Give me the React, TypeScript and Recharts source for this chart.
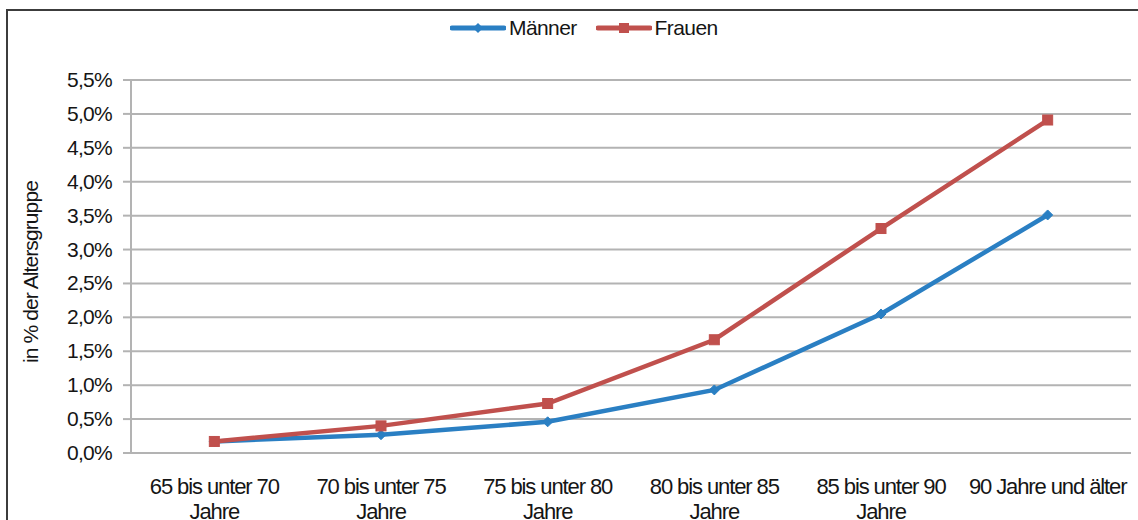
import React from "react";
import {
  LineChart,
  Line,
  XAxis,
  YAxis,
  CartesianGrid,
  Legend,
  Label,
} from "recharts";

const categories = [
  "65 bis unter 70 Jahre",
  "70 bis unter 75 Jahre",
  "75 bis unter 80 Jahre",
  "80 bis unter 85 Jahre",
  "85 bis unter 90 Jahre",
  "90 Jahre und älter",
];
const categoryLines: string[][] = [
  ["65 bis unter 70", "Jahre"],
  ["70 bis unter 75", "Jahre"],
  ["75 bis unter 80", "Jahre"],
  ["80 bis unter 85", "Jahre"],
  ["85 bis unter 90", "Jahre"],
  ["90 Jahre und älter"],
];
const maenner = [0.17, 0.27, 0.46, 0.93, 2.05, 3.51];
const frauen = [0.17, 0.4, 0.73, 1.67, 3.31, 4.91];
const yTicks = [0, 0.5, 1, 1.5, 2, 2.5, 3, 3.5, 4, 4.5, 5, 5.5];
const boundaryTicks = [0, 1, 2, 3, 4, 5, 6];

const data = categories.map((c, i) => ({
  group: c,
  Männer: maenner[i],
  Frauen: frauen[i],
}));

const BLUE = "#2a7fc3";
const RED = "#c0504d";
const GRID = "#b3b3b3";
const TEXT = "#151515";
const FONT = "'Liberation Sans', Arial, sans-serif";

const fmt = (v: number) => v.toFixed(1).replace(".", ",") + "%";

const Diamond = (props: any) => {
  const { cx, cy, index } = props;
  if (cx == null || cy == null) return <g key={"d" + index} />;
  const r = 5;
  return (
    <path
      key={"d" + index}
      d={`M${cx},${cy - r} L${cx + r},${cy} L${cx},${cy + r} L${cx - r},${cy} Z`}
      fill={BLUE}
      stroke={BLUE}
    />
  );
};

const Square = (props: any) => {
  const { cx, cy, index } = props;
  if (cx == null || cy == null) return <g key={"s" + index} />;
  const r = 5;
  return (
    <rect
      key={"s" + index}
      x={cx - r}
      y={cy - r}
      width={2 * r}
      height={2 * r}
      fill={RED}
      stroke={RED}
    />
  );
};

const CatTick = (props: any) => {
  const { x, y, payload } = props;
  const idx = categories.indexOf(payload.value);
  const lines = idx >= 0 ? categoryLines[idx] : [String(payload.value)];
  return (
    <g transform={`translate(${x},${y})`}>
      {lines.map((l, i) => (
        <text
          key={i}
          x={0}
          y={33 + i * 25}
          textAnchor="middle"
          fontFamily={FONT}
          fontSize={22}
          letterSpacing={-1.1}
          fill={TEXT}
        >
          {l}
        </text>
      ))}
    </g>
  );
};

const YTick = (props: any) => {
  const { x, y, payload } = props;
  return (
    <text
      x={x}
      y={y}
      dy={7}
      textAnchor="end"
      fontFamily={FONT}
      fontSize={21}
      letterSpacing={-0.7}
      fill={TEXT}
    >
      {fmt(payload.value)}
    </text>
  );
};

const LegendContent = () => {
  const items = [
    { name: "Männer", color: BLUE, shape: "diamond" },
    { name: "Frauen", color: RED, shape: "square" },
  ];
  return (
    <div
      style={{
        height: 70,
        display: "flex",
        justifyContent: "flex-start",
        alignItems: "flex-start",
        paddingTop: 6,
        paddingLeft: 450,
        boxSizing: "border-box",
        fontFamily: FONT,
        fontSize: 21,
        letterSpacing: -0.6,
        color: TEXT,
      }}
    >
      {items.map((it, i) => (
        <div
          key={it.name}
          style={{
            display: "flex",
            alignItems: "center",
            marginLeft: i === 0 ? 0 : 19,
          }}
        >
          <svg width={56} height={14} style={{ marginRight: 3 }}>
            <line x1={2} y1={7} x2={54} y2={7} stroke={it.color} strokeWidth={5} strokeLinecap="round" />
            {it.shape === "diamond" ? (
              <path d="M28,2 L33,7 L28,12 L23,7 Z" fill={it.color} />
            ) : (
              <rect x={23} y={2} width={10} height={10} fill={it.color} />
            )}
          </svg>
          <span style={{ lineHeight: "24px" }}>{it.name}</span>
        </div>
      ))}
    </div>
  );
};

export default function App() {
  return (
    <div
      style={{
        position: "absolute",
        left: 0,
        top: 0,
        width: 1138,
        height: 520,
        background: "#fff",
        overflow: "hidden",
      }}
    >
      <div
        style={{
          position: "absolute",
          left: 6,
          top: 9,
          width: 1300,
          height: 700,
          borderTop: "2px solid #3c3c3c",
          borderLeft: "2px solid #3c3c3c",
          boxSizing: "border-box",
        }}
      />
      <LineChart
        width={1138}
        height={520}
        data={data}
        margin={{ top: 10, right: 7, bottom: 0, left: 0 }}
        style={{ position: "absolute", left: 0, top: 0 }}
      >
        <Legend verticalAlign="top" align="left" content={<LegendContent />} height={70} />
        <CartesianGrid
          xAxisId="cat"
          horizontal={true}
          vertical={false}
          stroke={GRID}
          strokeWidth={2}
        />
        <XAxis
          xAxisId="grid"
          type="number"
          domain={[0, 6]}
          ticks={boundaryTicks}
          tick={false}
          tickLine={{ stroke: GRID, strokeWidth: 2 }}
          tickSize={8}
          axisLine={{ stroke: GRID, strokeWidth: 2 }}
          height={0}
          allowDataOverflow
        />
        <XAxis
          xAxisId="cat"
          dataKey="group"
          type="category"
          scale="band"
          tickLine={false}
          axisLine={false}
          tick={<CatTick />}
          interval={0}
          height={67}
        />
        <YAxis
          width={131}
          domain={[0, 5.5]}
          ticks={yTicks}
          interval={0}
          tick={<YTick />}
          tickSize={8}
          tickMargin={11}
          tickLine={{ stroke: GRID, strokeWidth: 2 }}
          axisLine={{ stroke: GRID, strokeWidth: 2 }}
        >
          <Label
            content={() => (
              <text
                x={30}
                y={272}
                transform="rotate(-90, 30, 272)"
                textAnchor="middle"
                dominantBaseline="central"
                fontFamily={FONT}
                fontSize={21}
                letterSpacing={-0.9}
                fill={TEXT}
              >
                in % der Altersgruppe
              </text>
            )}
          />
        </YAxis>
        <Line
          xAxisId="cat"
          type="linear"
          dataKey="Männer"
          stroke={BLUE}
          strokeWidth={4.5}
          dot={<Diamond />}
          activeDot={false}
          isAnimationActive={false}
        />
        <Line
          xAxisId="cat"
          type="linear"
          dataKey="Frauen"
          stroke={RED}
          strokeWidth={4.5}
          dot={<Square />}
          activeDot={false}
          isAnimationActive={false}
        />
      </LineChart>
    </div>
  );
}
